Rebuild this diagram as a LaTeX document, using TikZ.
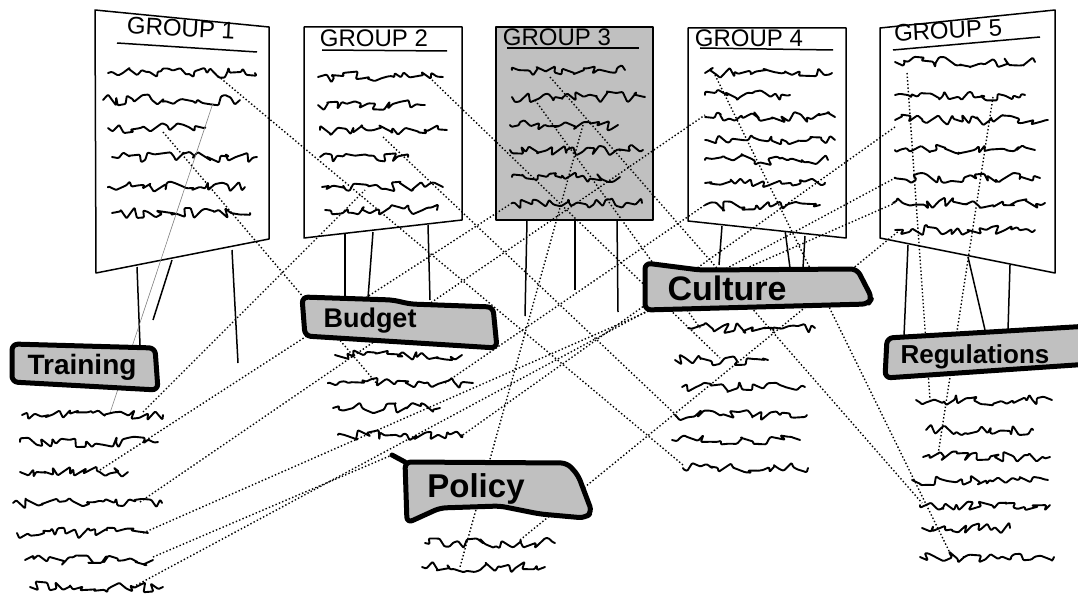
\documentclass[tikz,border=0pt]{standalone}
\usepackage{fontspec}
\setmainfont{Liberation Sans}
\usepackage{tikz}
\usetikzlibrary{decorations.pathmorphing, calc}
\definecolor{tagfill}{HTML}{C0C0C0}

\begin{document}
\begin{tikzpicture}[x=1pt, y=-1pt]
  \useasboundingbox (0,0) rectangle (1078,599);
  \pgfmathsetseed{7}
  \tikzstyle{board} = [draw=black, line width=1.5pt, fill=white, line join=round]
  \tikzstyle{scrib} = [line width=1.9pt, line join=round, line cap=round, rounded corners=1pt, decorate, decoration={random steps, segment length=4.5pt, amplitude=5.5pt}]
  \tikzstyle{leg} = [line width=1.5pt]
  \tikzstyle{link} = [line width=1.4pt, dash pattern=on 1.4pt off 2.2pt]
  \tikzstyle{tag} = [draw=black, line width=5pt, fill=tagfill, line join=round, rounded corners=6pt]
  \tikzstyle{title} = [font=\fontsize{24}{24}\selectfont, inner sep=0pt]
  \tikzstyle{tagtext} = [font=\bfseries\fontsize{27}{27}\selectfont, inner sep=0pt]

  % legs
  \foreach \xa/\ya/\xb/\yb in {
    137/267/140/345, 172/260/153/320, 232/250/238/363,
    345/234/345/298, 373/232/368/298, 428/225/430/300,
    527/220/525/316, 575/220/575/290, 617/220/618/312,
    722/226/719/265, 785/230/790/268, 805/236/803/268,
    908/245/904/336, 968/257/985/330, 1010/265/1008/330
  } {
    \draw[leg] (\xa,\ya) -- (\xb,\yb);
  }

  % boards
  \draw[board] (95,10) -- (269,27) -- (269,239) -- (96,273) -- cycle;
  \draw[board] (304,27) -- (462,27) -- (462,220) -- (304,238) -- cycle;
  \draw[board, fill=tagfill] (496,27) -- (653,27) -- (653,220) -- (496,220) -- cycle;
  \draw[board] (688,28) -- (846,28) -- (846,238) -- (688,221) -- cycle;
  \draw[board] (880,28) -- (1055,10) -- (1055,273) -- (880,238) -- cycle;

  \node[title, rotate=-3] (grp1) at (181,28) {GROUP 1};
  \node[title] (grp2) at (374,38) {GROUP 2};
  \node[title] (grp3) at (557,37) {GROUP 3};
  \node[title] (grp4) at (749,38) {GROUP 4};
  \node[title, rotate=3] (grp5) at (948,30) {GROUP 5};
  \draw[line width=1.5pt] (117,43) -- (257,52);
  \draw[line width=1.5pt] (322,50) -- (447,51);
  \draw[line width=1.5pt] (507,48) -- (639,48);
  \draw[line width=1.5pt] (700,48) -- (833,50);
  \draw[line width=1.5pt] (893,50) -- (1040,37);

  % board notes
  \foreach \xa/\xb/\y in {
    108/255/73, 103/240/100, 108/205/128, 112/257/157, 108/245/187, 112/250/213,
    318/443/77, 318/425/105, 320/447/130, 320/408/157, 322/443/187, 325/437/210,
    512/625/70, 512/645/97, 510/618/125, 510/643/150, 512/620/177, 512/642/203,
    705/832/73, 705/790/95, 705/835/117, 705/835/140, 705/828/160, 705/825/183, 705/820/205,
    895/1035/62, 895/1025/95, 895/1048/120, 895/1035/150, 895/1040/178, 893/1045/203, 895/1035/230
  } {
    \draw[scrib] (\xa,\y) -- (\xb,\y);
  }

  % ends of the links
  \coordinate (g1a) at (218,76);
  \coordinate (g1b) at (213,103);
  \coordinate (g1c) at (163,132);
  \coordinate (g2a) at (432,80);
  \coordinate (g2c) at (383,137);
  \coordinate (g2e) at (365,190);
  \coordinate (g3a) at (550,77);
  \coordinate (g3b) at (535,100);
  \coordinate (g3c) at (583,125);
  \coordinate (g3f) at (512,203);
  \coordinate (g4a) at (715,75);
  \coordinate (g4c) at (705,115);
  \coordinate (g4g) at (705,205);
  \coordinate (g5a) at (907,73);
  \coordinate (g5b) at (993,97);
  \coordinate (g5c) at (895,127);
  \coordinate (g5e) at (895,178);
  \coordinate (g5f) at (895,203);
  \coordinate (g5g) at (900,230);
  \coordinate (tr1) at (143,412);
  \coordinate (tr1b) at (110,413);
  \coordinate (tr3) at (100,470);
  \coordinate (tr4) at (140,502);
  \coordinate (tr5) at (143,533);
  \coordinate (tr6) at (153,557);
  \coordinate (tr7) at (133,587);
  \coordinate (bu2) at (378,385);
  \coordinate (bu2e) at (445,383);
  \coordinate (bu4) at (460,437);
  \coordinate (cu1) at (700,328);
  \coordinate (cu2) at (720,358);
  \coordinate (cu4) at (676,415);
  \coordinate (cu6) at (683,465);
  \coordinate (re1) at (930,400);
  \coordinate (re3) at (938,455);
  \coordinate (re5) at (922,503);
  \coordinate (re7) at (950,553);
  \coordinate (po1) at (520,540);
  \coordinate (po2) at (460,567);
  \coordinate (hook) at (392,455);

  \draw[gray, line width=0.6pt] (g1b) -- (tr1b);
  \foreach \a/\b in {g1a/cu6, g1c/bu2, g2a/cu2, g2c/cu4, g3a/re5, g3b/cu1, g4a/re7, g5a/re1, g5b/re3, g3c/po2,
    tr1/g2e, tr3/g3f, tr4/g4c, tr5/g5f, tr6/hook, tr7/g5e, bu2e/g4g, bu4/g5c, po1/g5g} {
    \draw[link] (\a) -- (\b);
  }

  % tags
  \draw[tag] (12,344) -- (155,348) -- (158,390) -- (12,382) -- cycle;
  \node[tagtext, font=\bfseries\fontsize{28}{28}\selectfont] (training) at (82,367) {Training};
  \draw[tag] (302,297) -- (393,300) -- (410,304) -- (493,307) -- (497,348) -- (305,336) -- cycle;
  \node[tagtext] (budget) at (370,321) {Budget};
  \draw[tag] (645,263) -- (700,270) -- (857,269) -- (872,298) -- (868,304) -- (645,310) -- cycle;
  \node[tagtext, font=\bfseries\fontsize{34}{34}\selectfont] (culture) at (727,288) {Culture};
  \draw[tag] (887,338) -- (973,333) -- (1090,326) -- (1090,364) -- (885,378) -- cycle;
  \node[tagtext, font=\bfseries\fontsize{26}{26}\selectfont] (regulations) at (975,357) {Regulations};
  \draw[tag] (405,462) -- (567,463) -- (578,475) -- (592,512) -- (585,518) -- (540,514) -- (500,506) -- (440,508) -- (407,523) -- cycle;
  \draw[line width=5pt, line cap=round] (hook) -- (405,462);
  \node[tagtext, font=\bfseries\fontsize{33}{33}\selectfont] (policy) at (476,489) {Policy};

  % tag notes
  \foreach \xa/\xb/\y in {
    22/163/415, 20/158/442, 20/128/472, 13/162/503, 17/148/533, 25/153/560, 30/163/587,
    335/462/355, 328/473/383, 333/440/408, 338/462/435,
    688/815/328, 675/768/360, 682/805/387, 675/807/415, 672/800/440, 683/808/468,
    916/1052/400, 926/1033/430, 923/1050/457, 912/1048/480, 920/1050/505, 922/1010/528, 920/1054/557,
    425/555/543, 422/545/567
  } {
    \draw[scrib] (\xa,\y) -- (\xb,\y);
  }
\end{tikzpicture}
\end{document}
